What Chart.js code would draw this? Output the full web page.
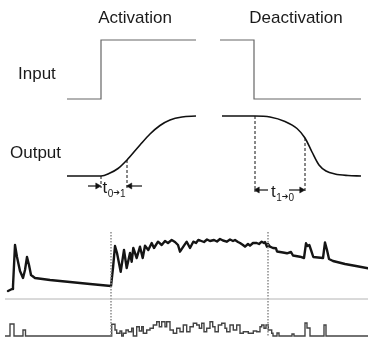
<!DOCTYPE html>
<html>
<head>
<meta charset="utf-8">
<script src="https://cdn.jsdelivr.net/npm/chart.js@4.4.1/dist/chart.umd.min.js"></script>
<style>
html,body{margin:0;padding:0;background:#fff;}
#wrap{width:368px;height:337px;}
</style>
</head>
<body>
<div id="wrap"><canvas id="c" width="368" height="337"></canvas></div>
<script>
// ---------- DATA (diagram units: x 0..368, y 0..337, y downward) ----------
const sectionTitles = ['Activation', 'Deactivation'];
const rowLabels = ['Input', 'Output'];
const timeLabels = [['t', '0', '➔', '1'], ['t', '1', '➔', '0']];

const inputOn  = [[67,99],[101,99],[101,40],[196,40]];
const inputOff = [[220,40],[254,40],[254,99],[361,99]];

const outputOn  = [[67,176],[101,176],[110,173],[118,168.5],[127,160],[140,145],[150,134],[160,125.5],[170,120],[182,117],[196,116]];
const outputOff = [[222,116],[255,116],[270,117],[285,121.5],[297,128.5],[305,138],[312,152],[319,165],[326,171],[335,174],[348,175.5],[361,176]];

const dashOn  = [[[101,176],[101,188]], [[127,160],[127,188]]];
const dashOff = [[[255,116],[255,192]], [[305,138],[305,192]]];

const arrowShafts = [[[88,186],[98,186]], [[131,186],[142,186]], [[259,190],[268,190]], [[289,190],[301,190]]];
const arrowTips = [[97.5,186,90],[130,186,-90],[257.5,190,-90],[301.5,190,90]];

const trace = [
 [8,291],[12,289],[13,286],[15,245],[17,257],[20,271],[23,278],[25,270],[27,257],[29,265],[31,275],[35,278],
 [50,280],[70,282],[90,284],[111,286],
 [113,268],[115,246],[117,253],[120.7,271.7],[124,250],[126.7,268],[130,253],[131.7,261.7],[133.3,248],[136.7,258],
 [140,246.7],[142.7,258],[145,245.7],[148.3,250],[151.7,243],[154,248],[158,241.7],[161.7,245],[165,241],[168,243],
 [171.7,240],[175,242],[178,245],[180,251.7],[183.3,246.7],[186.7,241.7],[190,248],[193.3,241.7],[196,243],[198.3,240],
 [200,240.5],[204,242],[207,239.5],[210,241],[214,240],[217,241.5],[220,239],[223,240.5],[226.7,241.7],[230,239.5],
 [233,241],[235,240],[238,242],[240,243],[243,245],[245,246.7],[248,244],[250,245.7],[253,243],[256.7,243],
 [259,244],[261.7,241.7],[264,243],[265,242],[267,246.7],[268,244],[270,246.7],[273,248],[276,248.3],[277,251.5],
 [283,252.5],[287,253.3],[291,252],[293,255.5],[300,256.7],[304,258],[306,243.3],[307.5,246],[309.3,245],[311,250],
 [313.3,257],[318,257.5],[323,258],[325,242.5],[327,250],[329,259],[333,261],[345,264],[356,266],[368,268.3]
];

const gridLine = [[5,299],[368,299]];
const markers = [[[111,232],[111,337]], [[268,232],[268,337]]];

const hist = [
 [5,336],[10,324],[14,336],[23,330],[25.5,336],
 [111.7,324.3],[115,330],[116.7,333.3],[120,331],[121.7,336],[123.3,333.3],[126,330],[128.3,331.7],[131.7,328.3],[133.3,336],
 [136.7,326.7],[139.3,331],[141.7,326.7],[143.3,333.3],[146.7,330],[150,328.3],[153.3,325],[156.7,321.7],[159.3,326.7],[161.7,321.7],
 [165,326.7],[166.7,321.7],[170,330],[173.3,333.3],[176.7,328.3],[180,331.7],[183.3,325],[186.7,331.7],[190,326.7],[193.3,323.3],
 [196.7,325],[199.3,328.3],[201.7,323.3],[204,331.7],[206.7,328.3],[210,321.7],[212.7,326.7],[215,331.7],[218.3,325],[221.7,323.3],
 [225,328.3],[226.7,331.7],[230,325],[233.3,330],[236.7,325],[240,333.3],[243.3,331.7],[248.3,333.3],[253.3,331],[256.7,331.7],
 [260,326.7],[261.7,325],[264,328.3],[266,325],[268.3,330],[271.7,333.3],[273,336],
 [277,333],[279,336],[292,334],[294,336],[305,323],[307,328],[310,336],[324,325],[326,336],[368,336]
];

// ---------- layout / style config (not data) ----------
const textItems = [
 {t: sectionTitles[0], x:135, y:23, size:17, align:'center'},
 {t: sectionTitles[1], x:296, y:23, size:17, align:'center'},
 {t: rowLabels[0], x:18, y:79, size:17, align:'left'},
 {t: rowLabels[1], x:10, y:158, size:17, align:'left'}
];
const subPos = [ {x:102.5, y:193}, {x:271, y:197} ];

const pts = a => a.map(p => ({x:p[0], y:p[1]}));
const lineDs = (d, o) => Object.assign({data: pts(d), showLine:true, pointRadius:0, fill:false, borderWidth:1, borderColor:'#111', tension:0}, o);

const datasets = [];
datasets.push(lineDs(inputOn,  {borderColor:'#666', borderWidth:1.2}));
datasets.push(lineDs(inputOff, {borderColor:'#666', borderWidth:1.2}));
datasets.push(lineDs(outputOn,  {borderColor:'#111', borderWidth:1.6, cubicInterpolationMode:'monotone'}));
datasets.push(lineDs(outputOff, {borderColor:'#111', borderWidth:1.6, cubicInterpolationMode:'monotone'}));
dashOn.concat(dashOff).forEach(d => datasets.push(lineDs(d, {borderColor:'#111', borderWidth:1, borderDash:[3,2]})));
arrowShafts.forEach(d => datasets.push(lineDs(d, {borderColor:'#111', borderWidth:1.2})));
datasets.push({data: arrowTips.map(p => ({x:p[0], y:p[1]})), showLine:false, pointStyle:'triangle',
  pointRadius:3.5, pointRotation: arrowTips.map(p => p[2]), pointBackgroundColor:'#111', pointBorderColor:'#111', pointBorderWidth:0.5});
datasets.push(lineDs(gridLine, {borderColor:'#b4b4b4', borderWidth:1}));
markers.forEach(d => datasets.push(lineDs(d, {borderColor:'#8a8a8a', borderWidth:1.5, borderDash:[1.5,1.5]})));
datasets.push(lineDs(hist, {borderColor:'#444', borderWidth:1.4, stepped:'before'}));
datasets.push(lineDs(trace, {borderColor:'#151515', borderWidth:2.4, borderJoinStyle:'round', borderCapStyle:'round'}));

const textPlugin = {
  id:'diagramText',
  afterDraw(chart){
    const ctx = chart.ctx, sx = chart.scales.x, sy = chart.scales.y;
    ctx.save();
    ctx.fillStyle = '#1a1a1a';
    ctx.textBaseline = 'alphabetic';
    textItems.forEach(it => {
      ctx.font = it.size + 'px "Liberation Sans", Arial, sans-serif';
      ctx.textAlign = it.align;
      ctx.fillText(it.t, sx.getPixelForValue(it.x), sy.getPixelForValue(it.y));
    });
    timeLabels.forEach((parts, i) => {
      let x = sx.getPixelForValue(subPos[i].x);
      const yb = sy.getPixelForValue(subPos[i].y);
      ctx.textAlign = 'left';
      ctx.font = '17px "Liberation Sans", Arial, sans-serif';
      ctx.fillText(parts[0], x, yb);
      x += ctx.measureText(parts[0]).width + 0.5;
      ctx.font = '10px "Liberation Sans", Arial, sans-serif';
      ctx.fillText(parts[1], x, yb + 4);
      x += ctx.measureText(parts[1]).width;
      ctx.font = '8px "DejaVu Sans", sans-serif';
      ctx.fillText(parts[2], x, yb + 1.5);
      x += ctx.measureText(parts[2]).width;
      ctx.font = '10px "Liberation Sans", Arial, sans-serif';
      ctx.fillText(parts[3], x, yb + 4);
    });
    ctx.restore();
  }
};

new Chart(document.getElementById('c'), {
  type:'scatter',
  data:{datasets},
  options:{
    responsive:false, animation:false, devicePixelRatio:1,
    layout:{padding:0, autoPadding:false},
    plugins:{legend:{display:false}, tooltip:{enabled:false}},
    elements:{point:{hoverRadius:0}},
    scales:{
      x:{type:'linear', min:0, max:368, display:false},
      y:{type:'linear', min:0, max:337, reverse:true, display:false}
    }
  },
  plugins:[textPlugin]
});
</script>
</body>
</html>
